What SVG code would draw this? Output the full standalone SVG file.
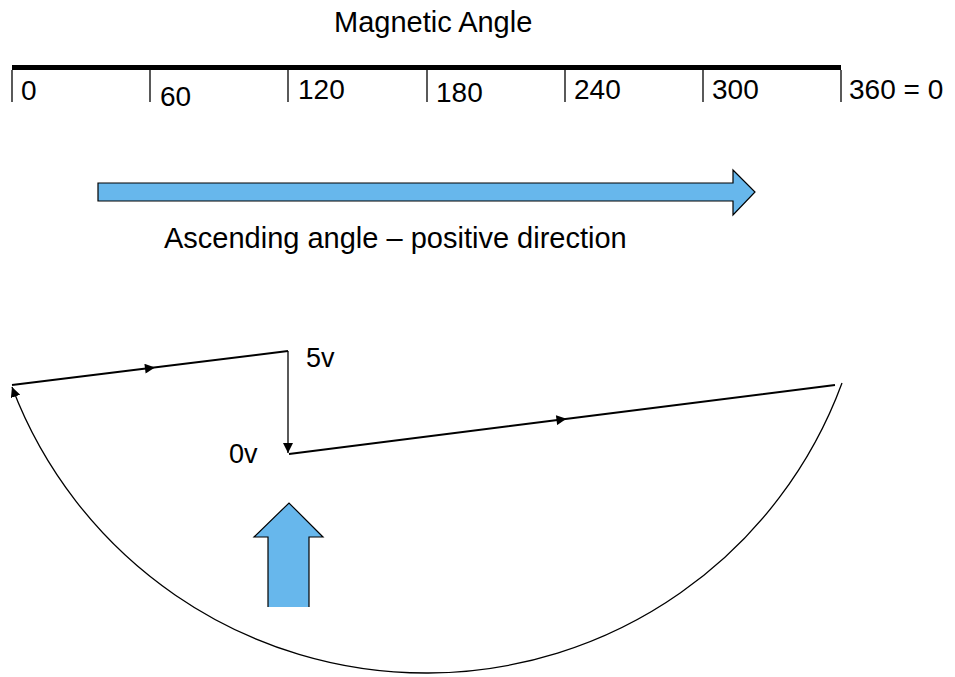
<svg xmlns="http://www.w3.org/2000/svg" width="955" height="677" viewBox="0 0 955 677">
<defs>
<marker id="tri" viewBox="0 0 10 10" refX="10" refY="5" markerWidth="10" markerHeight="10" markerUnits="userSpaceOnUse" orient="auto">
<path d="M0,0 L10,5 L0,10 Z" fill="#000"/>
</marker>
<marker id="triMid" viewBox="0 0 10 10" refX="5" refY="5" markerWidth="12" markerHeight="10" markerUnits="userSpaceOnUse" orient="auto">
<path d="M0,0 L10,5 L0,10 Z" fill="#000"/>
</marker>
</defs>
<style>
text{font-family:"Liberation Sans",Arial,sans-serif;fill:#000}
.lbl{font-size:28px}
.tick{stroke:#000;stroke-width:1.3}
.blue{fill:#67b7ec;stroke:#000;stroke-width:1.2}
.wire{fill:none;stroke:#000}
</style>
<rect width="955" height="677" fill="#fff"/>

<g id="title"><text x="334" y="32" font-size="29">Magnetic Angle</text></g>

<g id="scale">
<line x1="12" y1="67.5" x2="841" y2="67.5" stroke="#000" stroke-width="5"/>
<line class="tick" x1="12" y1="70" x2="12" y2="102"/>
<line class="tick" x1="150" y1="70" x2="150" y2="102"/>
<line class="tick" x1="288" y1="70" x2="288" y2="102"/>
<line class="tick" x1="427" y1="70" x2="427" y2="102"/>
<line class="tick" x1="565" y1="70" x2="565" y2="102"/>
<line class="tick" x1="703" y1="70" x2="703" y2="102"/>
<line class="tick" x1="841" y1="70" x2="841" y2="102"/>
<text class="lbl" x="21" y="100">0</text>
<text class="lbl" x="160" y="106">60</text>
<text class="lbl" x="298" y="99">120</text>
<text class="lbl" x="436" y="102">180</text>
<text class="lbl" x="574" y="99">240</text>
<text class="lbl" x="712" y="99">300</text>
<text class="lbl" x="849" y="99">360 = 0</text>
</g>

<g id="direction-arrow">
<path class="blue" d="M98,183 L733,183 L733,170 L755,192 L733,215 L733,201 L98,201 Z"/>
<text x="164" y="248" font-size="29">Ascending angle – positive direction</text>
</g>

<g id="up-arrow">
<path d="M268,607 L268,537 L254,537 L289,503 L323,537 L309,537 L309,607 Z" fill="#67b7ec"/>
<path d="M268,607 L268,537 L254,537 L289,503 L323,537 L309,537 L309,607" fill="none" stroke="#000" stroke-width="1.2"/>
</g>

<g id="labels">
<text x="306" y="367" font-size="27">5v</text>
<text x="229" y="463" font-size="27">0v</text>
</g>

<g id="connectors">
<path class="wire" stroke-width="2" d="M12,385 L150,368 L288,351" marker-mid="url(#triMid)"/>
<path class="wire" stroke-width="1.3" d="M288,351 L288,453" marker-end="url(#tri)"/>
<path class="wire" stroke-width="2" d="M289,454 L561.5,419.5 L835,385" marker-mid="url(#triMid)"/>
<path class="wire" stroke-width="1.3" d="M842,383 A443,443 0 0 1 12,387" marker-end="url(#tri)"/>
</g>
</svg>
